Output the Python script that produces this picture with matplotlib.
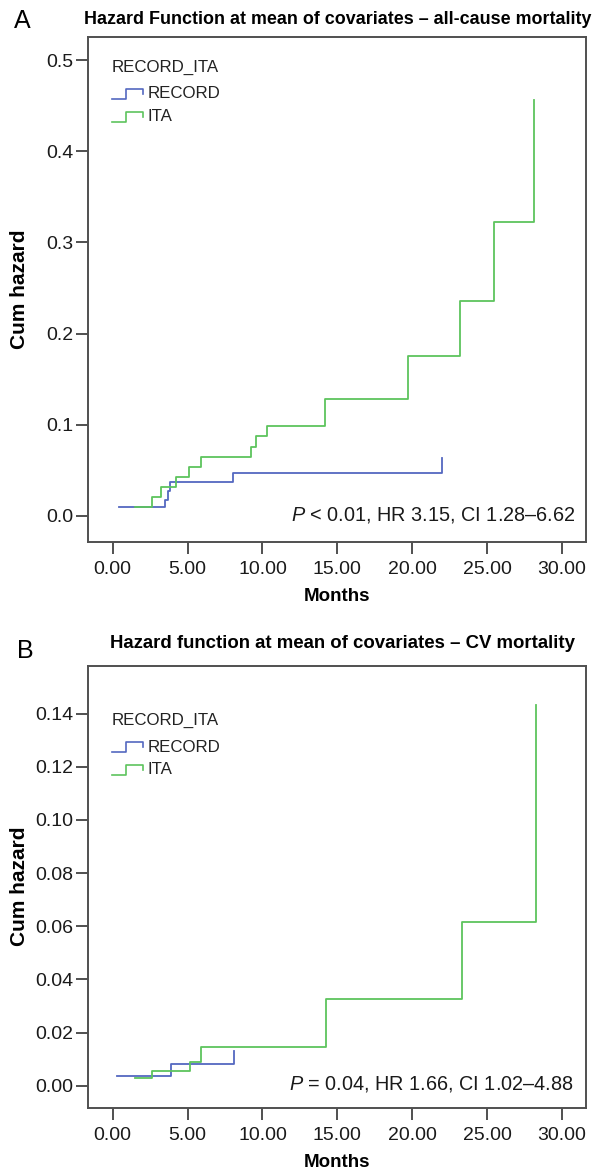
import matplotlib
matplotlib.use("Agg")
import matplotlib.pyplot as plt
from matplotlib.ticker import FormatStrFormatter

plt.rcParams['font.family'] = ['Liberation Sans', 'DejaVu Sans']
plt.rcParams['mathtext.fontset'] = 'custom'
plt.rcParams['mathtext.it'] = 'Liberation Sans:italic'
plt.rcParams['mathtext.rm'] = 'Liberation Sans'

# ---------------- data ----------------
# Panel A: all-cause mortality
a_record_t = [0.4, 3.46, 3.72, 3.85, 8.0, 22.0]
a_record_h = [0.009, 0.017, 0.027, 0.037, 0.047, 0.063]
a_ita_t = [1.5, 2.6, 3.2, 4.2, 5.1, 5.9, 9.2, 9.6, 10.3, 14.2, 19.7, 23.2, 25.45, 28.1]
a_ita_h = [0.010, 0.021, 0.031, 0.042, 0.053, 0.064, 0.075, 0.087, 0.098,
           0.128, 0.175, 0.236, 0.323, 0.456]
# Panel B: CV mortality
b_record_t = [0.3, 3.87, 8.1]
b_record_h = [0.0036, 0.0082, 0.0130]
b_ita_t = [1.5, 2.6, 5.15, 5.87, 14.27, 23.3, 28.27]
b_ita_h = [0.0028, 0.0056, 0.0090, 0.0147, 0.0325, 0.0614, 0.1434]

x_ticks = [0, 5, 10, 15, 20, 25, 30]
a_y_ticks = [0.0, 0.1, 0.2, 0.3, 0.4, 0.5]
b_y_ticks = [0.00, 0.02, 0.04, 0.06, 0.08, 0.10, 0.12, 0.14]
group_names = ['RECORD', 'ITA']
legend_title = 'RECORD_ITA'
titles = ['Hazard Function at mean of covariates \u2013 all-cause mortality',
          'Hazard function at mean of covariates \u2013 CV mortality']
annotations = ['$\\it{P}$ < 0.01, HR 3.15, CI 1.28\u20136.62',
               '$\\it{P}$ = 0.04, HR 1.66, CI 1.02\u20134.88']
panel_letters = ['A', 'B']

# ---------------- style ----------------
W, H = 596, 1170
DPI = 100
BLUE = '#5468C0'
GREEN = '#5DC45D'
SPINE = '#505050'

fig = plt.figure(figsize=(W / DPI, H / DPI), dpi=DPI)

def px_axes(left, top, right, bottom):
    return fig.add_axes([left / W, 1 - bottom / H, (right - left) / W, (bottom - top) / H])

axA = px_axes(87.7, 36.7, 586, 541.7)
axB = px_axes(87.7, 665.7, 586, 1107.7)

def style(ax, yticks, yfmt, ylim):
    ax.set_xlim(-1.67, 31.6)
    ax.set_ylim(*ylim)
    ax.set_xticks(x_ticks)
    ax.set_yticks(yticks)
    ax.xaxis.set_major_formatter(FormatStrFormatter('%.2f'))
    ax.yaxis.set_major_formatter(FormatStrFormatter(yfmt))
    for s in ax.spines.values():
        s.set_color(SPINE)
        s.set_linewidth(1.4)
    ax.tick_params(direction='out', length=8.4, width=1.4, color=SPINE,
                   labelsize=14, labelcolor='#1a1a1a')
    ax.tick_params(axis='x', pad=5.5)
    ax.tick_params(axis='y', pad=2)
    ax.set_xlabel('Months', fontsize=13.5, fontweight='bold', labelpad=7)
    ax.set_ylabel('Cum hazard', fontsize=15, fontweight='bold')
    ax.yaxis.set_label_coords(-0.118, 0.5)

def legend(ax, top_offset):
    bb = ax.get_position()
    axw, axh = bb.width * W, bb.height * H
    def fx(dx):
        return dx / axw
    def fy(dy):
        return 1 - dy / axh
    ax.text(fx(24), fy(top_offset), legend_title, fontsize=12.2,
            ha='left', va='center', transform=ax.transAxes, color='#222222')
    for i, (name, col) in enumerate(zip(group_names, [BLUE, GREEN])):
        yc = top_offset + 26.3 + i * 22.7
        xs = [fx(24), fx(38.3), fx(38.3), fx(55), fx(55)]
        ys = [fy(yc + 5), fy(yc + 5), fy(yc - 5), fy(yc - 5), fy(yc)]
        ax.plot(xs, ys, color=col, lw=1.2, transform=ax.transAxes, clip_on=False)
        ax.text(fx(59.6), fy(yc), name, fontsize=12.2, ha='left', va='center',
                transform=ax.transAxes, color='#222222')

style(axA, a_y_ticks, '%.1f', (-0.0286, 0.526))
style(axB, b_y_ticks, '%.2f', (-0.00827, 0.158))

axA.step(a_record_t, a_record_h, where='post', color=BLUE, lw=1.3)
axA.step(a_ita_t, a_ita_h, where='post', color=GREEN, lw=1.3)
axB.step(b_record_t, b_record_h, where='post', color=BLUE, lw=1.3)
axB.step(b_ita_t, b_ita_h, where='post', color=GREEN, lw=1.3)

legend(axA, 31)
legend(axB, 55)

axA.text(0.978, 0.053, annotations[0], transform=axA.transAxes, ha='right',
         va='center', fontsize=14.3, color='#1a1a1a')
axB.text(0.976, 0.054, annotations[1], transform=axB.transAxes, ha='right',
         va='center', fontsize=14.3, color='#1a1a1a')

fig.text(338 / W, 1 - 19 / H, titles[0], ha='center', va='center',
         fontsize=12.9, fontweight='bold')
fig.text(342.7 / W, 1 - 643.5 / H, titles[1], ha='center', va='center',
         fontsize=13.4, fontweight='bold')
fig.text(22 / W, 1 - 21 / H, panel_letters[0], ha='center', va='center', fontsize=18)
fig.text(25 / W, 1 - 651 / H, panel_letters[1], ha='center', va='center', fontsize=18)

fig.savefig('out.png', dpi=DPI)
